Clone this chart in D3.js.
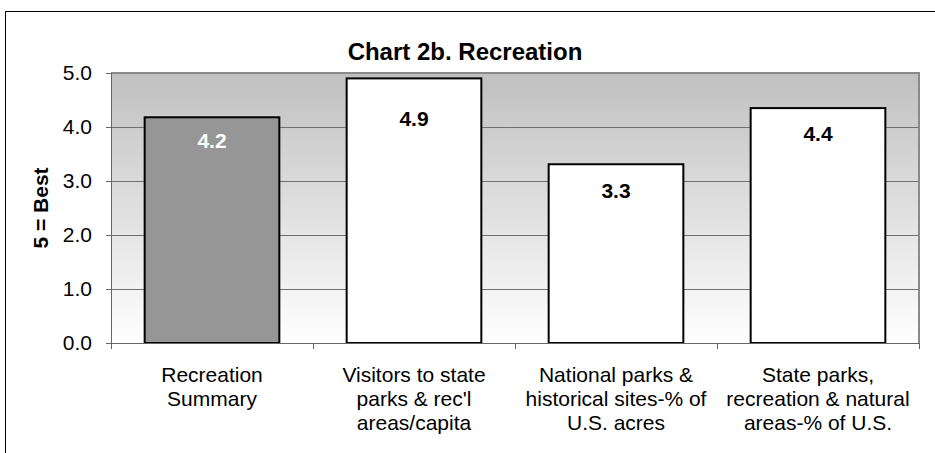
<!DOCTYPE html>
<html>
<head>
<meta charset="utf-8">
<script src="https://cdn.jsdelivr.net/npm/d3@7"></script>
<style>
  html, body { margin: 0; padding: 0; background: #fff; }
  svg { display: block; font-family: "Liberation Sans", Arial, Helvetica, sans-serif; }
</style>
</head>
<body>
<svg id="chart" width="935" height="453"></svg>
<script>
// ---- data ----
const categories = [
  ["Recreation", "Summary"],
  ["Visitors to state", "parks & rec'l", "areas/capita"],
  ["National parks &", "historical sites-% of", "U.S. acres"],
  ["State parks,", "recreation & natural", "areas-% of U.S."]
];
const values = [4.18, 4.90, 3.31, 4.35];
const valueLabels = ["4.2", "4.9", "3.3", "4.4"];
const yTicks = [0, 1, 2, 3, 4, 5];
const title = "Chart 2b. Recreation";
const yTitle = "5 = Best";

// ---- layout / style (not data) ----
const barFills = ["#969696", "#ffffff", "#ffffff", "#ffffff"];
const labelColors = ["#ffffff", "#000000", "#000000", "#000000"];
const labelOffsets = [23, 40, 26, 26]; // px below bar top (label centre)

const svg = d3.select("#chart");
const plot = { left: 111, right: 919, top: 73, bottom: 343 };

// outer frame
svg.append("rect")
  .attr("x", 5.5).attr("y", 11.5)
  .attr("width", 960).attr("height", 480)
  .attr("fill", "#fff").attr("stroke", "#000").attr("stroke-width", 1);

const x = d3.scaleBand()
  .domain(d3.range(categories.length))
  .range([plot.left, plot.right])
  .paddingInner(1/3).paddingOuter(1/6);

const y = d3.scaleLinear().domain([0, 5]).range([plot.bottom, plot.top]);

// gradient background
const defs = svg.append("defs");
const grad = defs.append("linearGradient").attr("id", "bg")
  .attr("x1", 0).attr("y1", 0).attr("x2", 0).attr("y2", 1);
grad.append("stop").attr("offset", "0%").attr("stop-color", "#c0c0c0");
grad.append("stop").attr("offset", "100%").attr("stop-color", "#ffffff");

svg.append("rect")
  .attr("x", plot.left).attr("y", plot.top)
  .attr("width", plot.right - plot.left).attr("height", plot.bottom - plot.top)
  .attr("fill", "url(#bg)");

// gridlines
svg.append("g")
  .selectAll("line")
  .data(yTicks.filter(t => t > 0 && t < 5))
  .join("line")
  .attr("x1", plot.left).attr("x2", plot.right)
  .attr("y1", d => Math.round(y(d)) + 0.5).attr("y2", d => Math.round(y(d)) + 0.5)
  .attr("stroke", "#707070").attr("stroke-width", 1);

// plot border top/right
svg.append("path")
  .attr("d", `M${plot.left},${plot.top} H${plot.right} V${plot.bottom}`)
  .attr("fill", "none").attr("stroke", "#8a8a8a").attr("stroke-width", 2);

// bars
svg.append("g")
  .selectAll("rect")
  .data(values)
  .join("rect")
  .attr("x", (d, i) => x(i))
  .attr("y", d => y(d))
  .attr("width", x.bandwidth())
  .attr("height", d => y(0) - y(d))
  .attr("fill", (d, i) => barFills[i])
  .attr("stroke", "#000").attr("stroke-width", 2);

// value labels
svg.append("g")
  .selectAll("text")
  .data(values)
  .join("text")
  .attr("x", (d, i) => x(i) + x.bandwidth() / 2)
  .attr("y", (d, i) => y(d) + labelOffsets[i])
  .attr("dy", "0.35em")
  .attr("text-anchor", "middle")
  .attr("font-size", 21).attr("font-weight", "bold")
  .attr("fill", (d, i) => labelColors[i])
  .text((d, i) => valueLabels[i]);

// y axis
const yAxis = d3.axisLeft(y).tickValues(yTicks).tickFormat(d3.format(".1f")).tickSize(5).tickPadding(14);
const gy = svg.append("g").attr("transform", `translate(${plot.left},0)`).call(yAxis);
gy.select(".domain").attr("stroke", "#666").attr("d", `M0.5,${plot.top}V${plot.bottom}`);
gy.selectAll(".tick line").attr("stroke", "#666");
gy.selectAll(".tick text").attr("font-size", 21).attr("fill", "#000")
  .attr("font-family", "'Liberation Sans', Arial, sans-serif");

// x axis (ticks at band boundaries)
const gx = svg.append("g").attr("transform", `translate(0,${plot.bottom})`);
gx.append("line").attr("x1", plot.left).attr("x2", plot.right)
  .attr("y1", 0.5).attr("y2", 0.5).attr("stroke", "#666");
const boundaries = d3.range(categories.length + 1).map(i =>
  i < categories.length ? x(i) - x.step() * x.paddingInner() / 2 : plot.right);
gx.selectAll("line.t").data(boundaries).join("line").attr("class", "t")
  .attr("x1", d => Math.round(d) + 0.5).attr("x2", d => Math.round(d) + 0.5)
  .attr("y1", 0).attr("y2", 6).attr("stroke", "#666");

// category labels
const cat = svg.append("g").selectAll("text").data(categories).join("text")
  .attr("text-anchor", "middle")
  .attr("font-size", 21).attr("fill", "#000")
  .attr("x", (d, i) => x(i) + x.bandwidth() / 2)
  .attr("y", 382);
cat.selectAll("tspan").data(d => d).join("tspan")
  .attr("x", function() { return d3.select(this.parentNode).attr("x"); })
  .attr("dy", (d, j) => j === 0 ? 0 : 24)
  .text(d => d);

// title
svg.append("text")
  .attr("x", 465).attr("y", 60)
  .attr("text-anchor", "middle")
  .attr("font-size", 24).attr("font-weight", "bold")
  .text(title);

// y title
svg.append("text")
  .attr("transform", `translate(48,${(plot.top + plot.bottom) / 2}) rotate(-90)`)
  .attr("text-anchor", "middle")
  .attr("font-size", 21).attr("font-weight", "bold")
  .text(yTitle);
</script>
</body>
</html>
